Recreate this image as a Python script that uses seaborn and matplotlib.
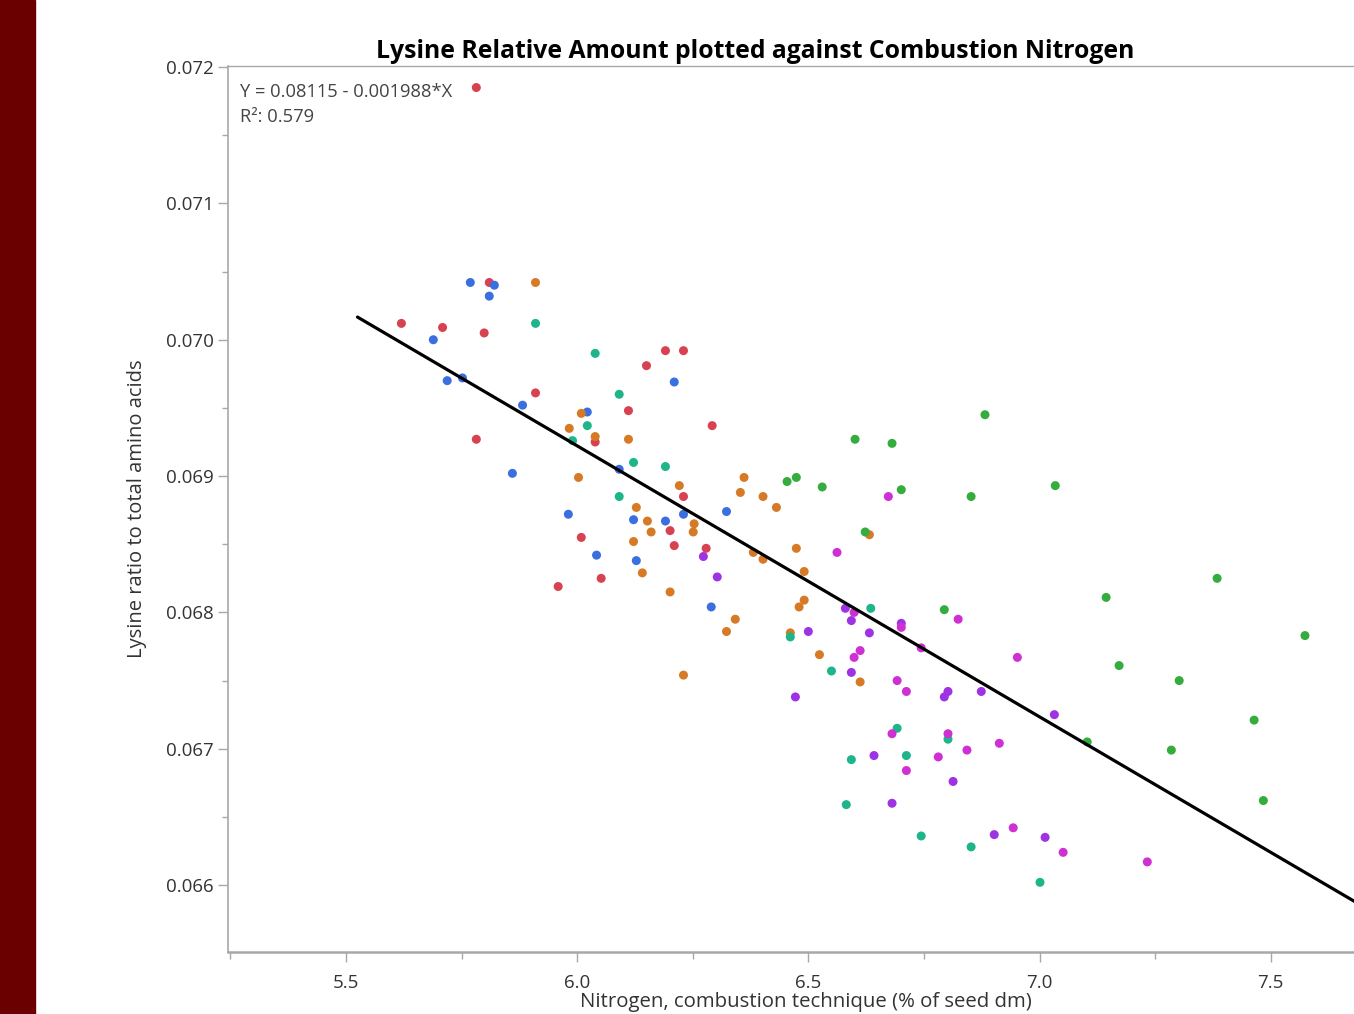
import numpy as np
import pandas as pd
import seaborn as sns
import matplotlib.pyplot as plt
from matplotlib.patches import Rectangle
from matplotlib.ticker import MultipleLocator

### DATA ###
red_x = [5.782, 5.620, 5.709, 5.799, 5.810, 5.910, 5.782, 6.111, 6.039, 6.009,
         6.052, 5.959, 6.150, 6.191, 6.230, 6.292, 6.230, 6.201, 6.210, 6.279]
red_y = [0.07185, 0.07012, 0.07009, 0.07005, 0.07042, 0.06961, 0.06927, 0.06948, 0.06925, 0.06855,
         0.06825, 0.06819, 0.06981, 0.06992, 0.06992, 0.06937, 0.06885, 0.06860, 0.06849, 0.06847]

blue_x = [5.769, 5.821, 5.810, 5.689, 5.719, 5.752, 5.882, 6.022, 5.860, 6.091,
          5.981, 6.122, 6.191, 6.230, 6.323, 6.042, 6.128, 6.290, 6.210]
blue_y = [0.07042, 0.07040, 0.07032, 0.07000, 0.06970, 0.06972, 0.06952, 0.06947, 0.06902, 0.06905,
          0.06872, 0.06868, 0.06867, 0.06872, 0.06874, 0.06842, 0.06838, 0.06804, 0.06969]

orange_x = [5.910, 6.009, 5.983, 6.039, 6.111, 6.003, 6.221, 6.128, 6.152, 6.160,
            6.253, 6.251, 6.122, 6.361, 6.353, 6.402, 6.431, 6.381, 6.402, 6.474,
            6.141, 6.201, 6.342, 6.323, 6.491, 6.491, 6.480, 6.461, 6.524, 6.230,
            6.612, 6.632]
orange_y = [0.07042, 0.06946, 0.06935, 0.06929, 0.06927, 0.06899, 0.06893, 0.06877, 0.06867, 0.06859,
            0.06865, 0.06859, 0.06852, 0.06899, 0.06888, 0.06885, 0.06877, 0.06844, 0.06839, 0.06847,
            0.06829, 0.06815, 0.06795, 0.06786, 0.06830, 0.06809, 0.06804, 0.06785, 0.06769, 0.06754,
            0.06749, 0.06857]

teal_x = [5.910, 6.039, 6.091, 6.022, 5.990, 6.122, 6.191, 6.091, 6.635, 6.461,
          6.550, 6.692, 6.593, 6.712, 6.802, 6.582, 6.744, 6.852, 7.001]
teal_y = [0.07012, 0.06990, 0.06960, 0.06937, 0.06926, 0.06910, 0.06907, 0.06885, 0.06803, 0.06782,
          0.06757, 0.06715, 0.06692, 0.06695, 0.06707, 0.06659, 0.06636, 0.06628, 0.06602]

green_x = [6.882, 6.601, 6.681, 6.454, 6.474, 6.530, 6.701, 6.852, 6.623, 6.794,
           7.034, 7.384, 7.144, 7.574, 7.172, 7.302, 7.103, 7.285, 7.464, 7.484]
green_y = [0.06945, 0.06927, 0.06924, 0.06896, 0.06899, 0.06892, 0.06890, 0.06885, 0.06859, 0.06802,
           0.06893, 0.06825, 0.06811, 0.06783, 0.06761, 0.06750, 0.06705, 0.06699, 0.06721, 0.06662]

violet_x = [6.273, 6.303, 6.580, 6.593, 6.500, 6.632, 6.701, 6.593, 6.802, 6.794,
            6.874, 6.472, 7.032, 6.642, 6.813, 6.681, 6.902, 7.012]
violet_y = [0.06841, 0.06826, 0.06803, 0.06794, 0.06786, 0.06785, 0.06792, 0.06756, 0.06742, 0.06738,
            0.06742, 0.06738, 0.06725, 0.06695, 0.06676, 0.06660, 0.06637, 0.06635]

magenta_x = [6.673, 6.562, 6.599, 6.701, 6.824, 6.744, 6.612, 6.599, 6.692, 6.712,
             6.952, 6.681, 6.802, 6.781, 6.843, 6.913, 6.712, 6.943, 7.051, 7.233]
magenta_y = [0.06885, 0.06844, 0.06800, 0.06789, 0.06795, 0.06774, 0.06772, 0.06767, 0.06750, 0.06742,
             0.06767, 0.06711, 0.06711, 0.06694, 0.06699, 0.06704, 0.06684, 0.06642, 0.06624, 0.06617]

# fitted line  Y = b0 + b1*X
b0, b1 = 0.08115, -0.001988
r2 = 0.579
fit_x = [5.525, 7.70]

groups = {'red': (red_x, red_y), 'blue': (blue_x, blue_y), 'orange': (orange_x, orange_y),
          'teal': (teal_x, teal_y), 'green': (green_x, green_y),
          'violet': (violet_x, violet_y), 'magenta': (magenta_x, magenta_y)}
palette = {'red': '#d8414f', 'blue': '#3b6fe0', 'orange': '#d67a26', 'teal': '#1fb58a',
           'green': '#34ad3e', 'violet': '#9d33e3', 'magenta': '#cf30d4'}

df = pd.concat([pd.DataFrame({'N': gx, 'lys': gy, 'grp': g}) for g, (gx, gy) in groups.items()],
               ignore_index=True)

### PLOT ###
sns.set_style('white')
plt.rcParams['font.family'] = ['Open Sans', 'DejaVu Sans']

W, H = 1354, 1014
fig = plt.figure(figsize=(W / 100, H / 100), dpi=100)
fig.patches.append(Rectangle((0, 0), 35 / W, 1, transform=fig.transFigure, color='#6b0000', zorder=0))

ax = fig.add_axes([228 / W, 1 - 952 / H, 1 - 228 / W, (952 - 66) / H])
sns.scatterplot(data=df, x='N', y='lys', hue='grp', palette=palette, s=42, linewidth=0,
                legend=False, ax=ax, zorder=3)
fx = np.array(fit_x)
sns.lineplot(x=fx, y=b0 + b1 * fx, color='black', linewidth=2.3, ax=ax, zorder=4)

ax.set_xlim(5.245, 7.680)
ax.set_ylim(0.065509, 0.072008)
ax.xaxis.set_major_locator(MultipleLocator(0.5))
ax.xaxis.set_minor_locator(MultipleLocator(0.25))
ax.yaxis.set_major_locator(MultipleLocator(0.001))
ax.yaxis.set_minor_locator(MultipleLocator(0.0005))
ax.xaxis.set_major_formatter(plt.FuncFormatter(lambda v, p: f'{v:.1f}'))
ax.yaxis.set_major_formatter(plt.FuncFormatter(lambda v, p: f'{v:.3f}'))

for s in ['left', 'bottom', 'top']:
    ax.spines[s].set_color('#a8a8a8')
ax.spines['bottom'].set_linewidth(1.8)
ax.spines['left'].set_linewidth(1.2)
ax.spines['top'].set_linewidth(1.0)
ax.spines['right'].set_visible(False)

ax.tick_params(which='major', direction='out', length=7, width=1, color='#a8a8a8',
               labelsize=13.5, labelcolor='#333333', pad=9)
ax.tick_params(which='minor', direction='out', length=5, width=1, color='#a8a8a8')
ax.tick_params(axis='y', which='minor', length=4)
ax.tick_params(axis='y', which='major', pad=3)
ax.tick_params(left=True, bottom=True, which='both')

ax.set_xlabel('Nitrogen, combustion technique (% of seed dm)', fontsize=14.7, color='#333333')
ax.xaxis.set_label_coords((806 - 228) / (W - 228), -(992 - 952) / (952 - 66))
ax.set_ylabel('Lysine ratio to total amino acids', fontsize=14.5, color='#333333', labelpad=13.5)

ax.text(0.0105, 0.9705, f'Y = {b0:.5f} - {abs(b1):.6f}*X', transform=ax.transAxes,
        fontsize=13.2, color='#444444', va='center', ha='left')
ax.text(0.0105, 0.9425, f'R²: {r2:.3f}', transform=ax.transAxes,
        fontsize=13.2, color='#444444', va='center', ha='left')

fig.text(755 / W, 1 - 51 / H, 'Lysine Relative Amount plotted against Combustion Nitrogen',
         fontsize=17.8, fontweight='bold', color='black', ha='center', va='center')

fig.savefig('out.png', dpi=100)
